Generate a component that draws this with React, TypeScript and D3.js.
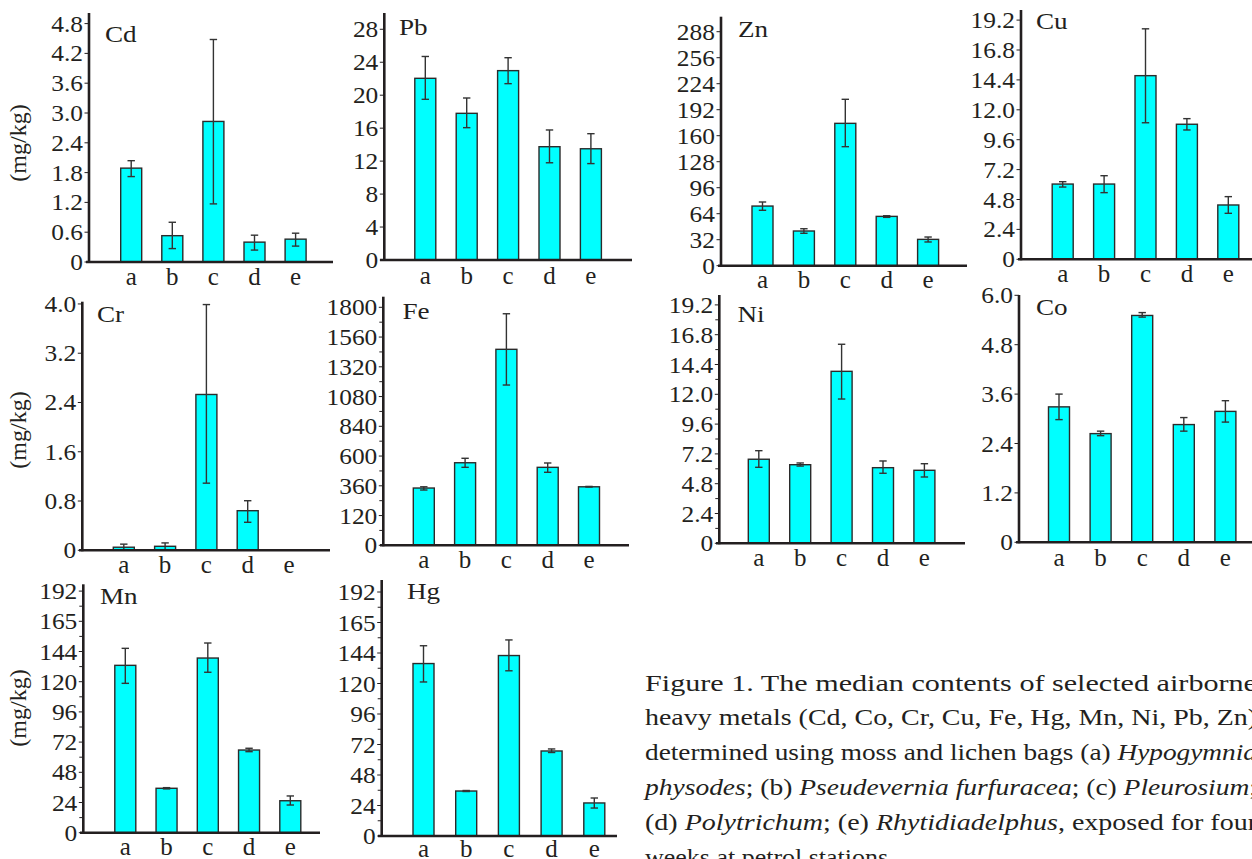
import React from 'react';
import * as d3 from 'd3';

const categories = ['a', 'b', 'c', 'd', 'e'];

// Cd
const cdTickLabels = ['0', '0.6', '1.2', '1.8', '2.4', '3.0', '3.6', '4.2', '4.8'];
const cdMedian = [1.89, 0.53, 2.83, 0.4, 0.46];
const cdLower = [1.72, 0.27, 1.17, 0.24, 0.32];
const cdUpper = [2.04, 0.8, 4.48, 0.54, 0.58];

// Pb
const pbTickLabels = ['0', '4', '8', '12', '16', '20', '24', '28'];
const pbMedian = [22.05, 17.8, 22.98, 13.75, 13.5];
const pbLower = [19.5, 16.06, 21.4, 11.8, 11.7];
const pbUpper = [24.7, 19.66, 24.55, 15.78, 15.33];

// Zn
const znTickLabels = ['0', '32', '64', '96', '128', '160', '192', '224', '256', '288'];
const znMedian = [73.4, 42.7, 175.2, 60.7, 32.4];
const znLower = [68.2, 39.9, 146.5, 59.5, 29.2];
const znUpper = [78.4, 45.5, 204.8, 61.5, 35.3];

// Cu
const cuTickLabels = ['0', '2.4', '4.8', '7.2', '9.6', '12.0', '14.4', '16.8', '19.2'];
const cuMedian = [6.04, 6.04, 14.74, 10.84, 4.36];
const cuLower = [5.8, 5.35, 10.96, 10.38, 3.69];
const cuUpper = [6.23, 6.71, 18.5, 11.29, 5.03];

// Cr
const crTickLabels = ['0', '0.8', '1.6', '2.4', '3.2', '4.0'];
const crMedian = [0.05, 0.065, 2.53, 0.643, 0];
const crLower = [0, 0.01, 1.09, 0.455, 0];
const crUpper = [0.1, 0.12, 3.99, 0.805, 0];

// Fe
const feTickLabels = ['0', '120', '360', '600', '840', '1080', '1320', '1560', '1800'];
const feMedian = [342, 546, 1461, 509, 352];
const feLower = [326, 509, 1173, 469, 350];
const feUpper = [352, 582, 1748, 544, 355];

// Ni
const niTickLabels = ['0', '2.4', '4.8', '7.2', '9.6', '12.0', '14.4', '16.8', '19.2'];
const niMedian = [6.77, 6.33, 13.85, 6.09, 5.88];
const niLower = [6.12, 6.22, 11.62, 5.64, 5.34];
const niUpper = [7.46, 6.47, 16.03, 6.63, 6.41];

// Co
const coTickLabels = ['0', '1.2', '2.4', '3.6', '4.8', '6.0'];
const coMedian = [3.29, 2.64, 5.51, 2.86, 3.18];
const coLower = [2.98, 2.59, 5.47, 2.7, 2.92];
const coUpper = [3.6, 2.7, 5.58, 3.03, 3.44];

// Mn
const mnTickLabels = ['0', '24', '48', '72', '96', '120', '144', '165', '192'];
const mnMedian = [133, 35.3, 138.8, 65.7, 25.4];
const mnLower = [118.7, 34.8, 127.5, 64.4, 22];
const mnUpper = [146.2, 35.8, 149.9, 67.1, 29.2];

// Hg
const hgTickLabels = ['0', '24', '48', '72', '96', '120', '144', '165', '192'];
const hgMedian = [135.7, 35.4, 142, 66.9, 26];
const hgLower = [121.2, 35.0, 130, 65.7, 22];
const hgUpper = [149, 35.8, 153, 68.5, 29.9];

const yAxisTitle = '(mg/kg)';

const FONT = '"Liberation Serif", "Times New Roman", serif';
const TEXT = '#231f20';
const SX = 1.13; // horizontal widening to mimic the wider book face

type Spec = {
  name: string;
  tickLabels: string[];
  median: number[];
  lower: number[];
  upper: number[];
  axisX: number;
  axisTop: number;
  base: number;
  step: number;
  xStart: number;
  xEnd: number;
  first: number;
  barStep: number;
  titleX: number;
  titleY: number;
  minor: boolean;
  catDy: number;
};

const panels: Spec[] = [
  { name: 'Cd', tickLabels: cdTickLabels, median: cdMedian, lower: cdLower, upper: cdUpper,
    axisX: 89, axisTop: 13, base: 262, step: 29.8, xStart: 86, xEnd: 333, first: 42.2, barStep: 41.1,
    titleX: 105, titleY: 42, minor: false, catDy: 23 },
  { name: 'Pb', tickLabels: pbTickLabels, median: pbMedian, lower: pbLower, upper: pbUpper,
    axisX: 384.3, axisTop: 13, base: 260, step: 32.96, xStart: 380, xEnd: 632, first: 41, barStep: 41.4,
    titleX: 399, titleY: 35, minor: false, catDy: 24 },
  { name: 'Zn', tickLabels: znTickLabels, median: znMedian, lower: znLower, upper: znUpper,
    axisX: 721, axisTop: 16.7, base: 265.7, step: 26, xStart: 718, xEnd: 967, first: 41.5, barStep: 41.4,
    titleX: 738, titleY: 37, minor: false, catDy: 22.5 },
  { name: 'Cu', tickLabels: cuTickLabels, median: cuMedian, lower: cuLower, upper: cuUpper,
    axisX: 1021, axisTop: 10, base: 259.3, step: 29.9, xStart: 1018, xEnd: 1252, first: 41.7, barStep: 41.4,
    titleX: 1036, titleY: 29, minor: false, catDy: 22.5 },
  { name: 'Cr', tickLabels: crTickLabels, median: crMedian, lower: crLower, upper: crUpper,
    axisX: 82.3, axisTop: 301.7, base: 550.3, step: 49.27, xStart: 79, xEnd: 330, first: 41.5, barStep: 41.3,
    titleX: 97, titleY: 321.5, minor: false, catDy: 23 },
  { name: 'Fe', tickLabels: feTickLabels, median: feMedian, lower: feLower, upper: feUpper,
    axisX: 383.3, axisTop: 296.7, base: 545.3, step: 29.75, xStart: 380, xEnd: 629, first: 40.5, barStep: 41.3,
    titleX: 402.5, titleY: 319, minor: true, catDy: 23 },
  { name: 'Ni', tickLabels: niTickLabels, median: niMedian, lower: niLower, upper: niUpper,
    axisX: 719.3, axisTop: 295, base: 543.3, step: 29.8, xStart: 716, xEnd: 965, first: 39.5, barStep: 41.4,
    titleX: 737.5, titleY: 321.5, minor: true, catDy: 23 },
  { name: 'Co', tickLabels: coTickLabels, median: coMedian, lower: coLower, upper: coUpper,
    axisX: 1019, axisTop: 295, base: 542.3, step: 49.4, xStart: 1016, xEnd: 1252, first: 40, barStep: 41.6,
    titleX: 1036, titleY: 315, minor: false, catDy: 23.5 },
  { name: 'Mn', tickLabels: mnTickLabels, median: mnMedian, lower: mnLower, upper: mnUpper,
    axisX: 83.3, axisTop: 584.3, base: 832.7, step: 30.2, xStart: 80, xEnd: 320, first: 42, barStep: 41.25,
    titleX: 100, titleY: 604, minor: true, catDy: 22 },
  { name: 'Hg', tickLabels: hgTickLabels, median: hgMedian, lower: hgLower, upper: hgUpper,
    axisX: 381.7, axisTop: 580, base: 836, step: 30.5, xStart: 378, xEnd: 617, first: 41.8, barStep: 42.7,
    titleX: 407, titleY: 599, minor: true, catDy: 20.5 },
];

function Panel({ s }: { s: Spec }) {
  const tickValues = s.tickLabels.map(Number);
  const y = d3
    .scaleLinear()
    .domain(tickValues)
    .range(tickValues.map((_, i) => s.base - i * s.step));
  const x = d3
    .scalePoint<string>()
    .domain(categories)
    .range([s.axisX + s.first, s.axisX + s.first + s.barStep * (categories.length - 1)]);
  const barW = 21;
  const minorYs = s.minor
    ? tickValues.slice(1).map((_, i) => s.base - (i + 0.5) * s.step)
    : [];
  return (
    <g>
      {categories.map((c, i) =>
        s.median[i] > 0 ? (
          <rect
            key={'b' + c}
            x={(x(c) as number) - barW / 2}
            y={y(s.median[i])}
            width={barW}
            height={s.base - y(s.median[i])}
            fill="#00ffff"
            stroke="#2b2b2b"
            strokeWidth={1.4}
          />
        ) : null
      )}
      {categories.map((c, i) =>
        s.upper[i] > 0 ? (
          <g key={'e' + c} stroke="#333" strokeWidth={1.4}>
            <line x1={x(c)} x2={x(c)} y1={y(s.upper[i])} y2={y(s.lower[i])} />
            <line x1={(x(c) as number) - 3.7} x2={(x(c) as number) + 3.7} y1={y(s.upper[i])} y2={y(s.upper[i])} />
            <line x1={(x(c) as number) - 3.7} x2={(x(c) as number) + 3.7} y1={y(s.lower[i])} y2={y(s.lower[i])} />
          </g>
        ) : null
      )}
      <line x1={s.axisX} x2={s.axisX} y1={s.axisTop} y2={s.base + 1} stroke={TEXT} strokeWidth={2.6} />
      {tickValues.map((v, i) => (
        <g key={'t' + i}>
          <line x1={s.axisX - 4.5} x2={s.axisX} y1={y(v)} y2={y(v)} stroke={TEXT} strokeWidth={1} />
          <text
            transform={`translate(${s.axisX - 6},${y(v) + 8}) scale(${SX},1)`}
            textAnchor="end"
            fontFamily={FONT}
            fontSize={22.5}
            fill={TEXT}
          >
            {s.tickLabels[i]}
          </text>
        </g>
      ))}
      {minorYs.map((yy, i) => (
        <line key={'m' + i} x1={s.axisX - 4} x2={s.axisX} y1={yy} y2={yy} stroke={TEXT} strokeWidth={1} />
      ))}
      <line x1={s.xStart} x2={s.xEnd} y1={s.base} y2={s.base} stroke={TEXT} strokeWidth={2.6} />
      {categories.map((c) => (
        <text
          key={'c' + c}
          x={x(c)}
          y={s.base + s.catDy}
          textAnchor="middle"
          fontFamily={FONT}
          fontSize={25}
          fill={TEXT}
        >
          {c}
        </text>
      ))}
      <text
        transform={`translate(${s.titleX},${s.titleY}) scale(${SX},1)`}
        fontFamily={FONT}
        fontSize={24}
        fill={TEXT}
      >
        {s.name}
      </text>
    </g>
  );
}

const yTitleRows = [143, 430, 708];

const captionLines: { parts: { t: string; i?: boolean }[]; justify: boolean }[] = [
  { parts: [{ t: 'Figure 1. The median contents of selected airborne' }], justify: true },
  { parts: [{ t: 'heavy metals (Cd, Co, Cr, Cu, Fe, Hg, Mn, Ni, Pb, Zn)' }], justify: true },
  { parts: [{ t: 'determined using moss and lichen bags (a) ' }, { t: 'Hypogymnia', i: true }], justify: true },
  {
    parts: [
      { t: 'physodes', i: true },
      { t: '; (b) ' },
      { t: 'Pseudevernia furfuracea', i: true },
      { t: '; (c) ' },
      { t: 'Pleurosium', i: true },
      { t: ';' },
    ],
    justify: true,
  },
  {
    parts: [
      { t: '(d) ' },
      { t: 'Polytrichum', i: true },
      { t: '; (e) ' },
      { t: 'Rhytidiadelphus', i: true },
      { t: ', exposed for four' },
    ],
    justify: true,
  },
  { parts: [{ t: 'weeks at petrol stations.' }], justify: false },
];

export default function App() {
  return (
    <svg
      width={1252}
      height={859}
      style={{ position: 'absolute', left: 0, top: 0, display: 'block', background: '#fff' }}
    >
      <rect x={0} y={0} width={1252} height={859} fill="#fff" />
      {panels.map((p) => (
        <Panel key={p.name} s={p} />
      ))}
      {yTitleRows.map((cy, i) => (
        <text
          key={'yt' + i}
          transform={`translate(26,${cy}) rotate(-90)`}
          textAnchor="middle"
          fontFamily={FONT}
          fontSize={24}
          fill={TEXT}
        >
          {yAxisTitle}
        </text>
      ))}
      {captionLines.map((line, i) =>
        line.justify ? (
          <text
            key={'cap' + i}
            x={645}
            y={690.5 + i * 34.8}
            fontFamily={FONT}
            fontSize={23}
            fill={TEXT}
            textLength={612}
            lengthAdjust="spacingAndGlyphs"
          >
            {line.parts.map((p, j) => (
              <tspan key={j} fontStyle={p.i ? 'italic' : 'normal'}>
                {p.t}
              </tspan>
            ))}
          </text>
        ) : (
          <text
            key={'cap' + i}
            transform={`translate(645,${690.5 + i * 34.8}) scale(${SX},1)`}
            fontFamily={FONT}
            fontSize={23}
            fill={TEXT}
          >
            {line.parts.map((p, j) => (
              <tspan key={j} fontStyle={p.i ? 'italic' : 'normal'}>
                {p.t}
              </tspan>
            ))}
          </text>
        )
      )}
    </svg>
  );
}
